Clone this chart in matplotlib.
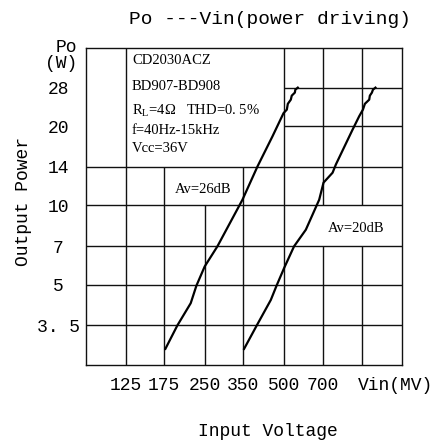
from matplotlib import pyplot as plt
import numpy as np

# grid / tick values (both axes step by sqrt(2))
x_ticks = [125, 175, 250, 350, 500, 700]
x_labels = ['125', '175', '250', '350', '500', '700']
x_extra = 990
y_ticks = [3.5, 5, 7, 10, 14, 20, 28]
y_labels = ['3. 5', '5', '7', '10', '14', '20', '28']
x_lim = (125 / np.sqrt(2), 1400)
y_lim = (3.5 / np.sqrt(2), 28 * np.sqrt(2))

# Av = 26dB curve
vin_26 = [176.9, 196.5, 220.8, 232, 249.5, 278.9, 347, 395.9, 451.4, 497,
          511.5, 516, 529.6, 534, 548.6, 551, 563]
po_26 = [2.85, 3.5, 4.25, 4.95, 5.86, 6.99, 10.5, 14.06, 18.3, 22.4,
         23.1, 24.3, 25.2, 26.1, 26.8, 27.5, 28]

# Av = 20dB curve
vin_20 = [352, 393.4, 444.6, 467.5, 499.6, 545, 604, 678.7, 705, 763, 785.5,
          909, 963, 995, 1012, 1051, 1057, 1076, 1086, 1110]
po_20 = [2.85, 3.5, 4.37, 4.95, 5.78, 6.99, 8.08, 10.5, 12.2, 13.3, 14.3,
         19.4, 21.8, 23.1, 24.3, 25.2, 26.1, 26.8, 27.5, 28]

mono = 'Liberation Mono'
serif = 'Liberation Serif'

W, H = 440, 441


def fig_xy(px, py):
    return px / W, 1 - py / H


fig = plt.figure(figsize=(4.4, 4.41), dpi=100)
ax = fig.add_axes([86 / W, 1 - 365 / H, 316 / W, 317 / H])
ax.set_xscale('log')
ax.set_yscale('log')
ax.set_xlim(*x_lim)
ax.set_ylim(*y_lim)
ax.minorticks_off()

lw = 1.0
col = '#111111'
y0, y1 = y_lim
x0, x1 = x_lim

# vertical grid segments (some cut away around the text boxes)
ax.vlines(125, y0, y1, color=col, lw=lw)
ax.vlines(175, y0, 14, color=col, lw=lw)
ax.vlines(250, y0, 10, color=col, lw=lw)
ax.vlines(350, y0, 14, color=col, lw=lw)
ax.vlines(500, y0, y1, color=col, lw=lw)
for xv in (700, x_extra):
    ax.vlines(xv, 10, y1, color=col, lw=lw)
    ax.vlines(xv, y0, 7, color=col, lw=lw)

# horizontal grid segments
for yv in y_ticks:
    if yv >= 20:
        ax.hlines(yv, 500, x1, color=col, lw=lw)
    else:
        ax.hlines(yv, x0, x1, color=col, lw=lw)

for s in ax.spines.values():
    s.set_color(col)
    s.set_linewidth(lw)

ax.plot(vin_26, po_26, color='black', lw=1.6)
ax.plot(vin_20, po_20, color='black', lw=1.6)

ax.set_xticks(x_ticks)
ax.set_xticklabels(x_labels, fontfamily=mono, fontsize=13)
ax.set_yticks(y_ticks)
ax.set_yticklabels(y_labels, fontfamily=mono, fontsize=13, ha='center')
ax.tick_params(axis='x', length=0, pad=9)
ax.tick_params(axis='y', length=0, pad=20)

fig.text(*fig_xy(358, 385), 'Vin(MV)', fontfamily=mono, fontsize=13,
         ha='left', va='center')
fig.text(*fig_xy(66, 48), 'Po', fontfamily=mono, fontsize=13,
         ha='center', va='center')
fig.text(*fig_xy(61, 64), '(W)', fontfamily=mono, fontsize=13,
         ha='center', va='center')

# parameter block
info = ['CD2030ACZ', 'BD907-BD908', r'R$_\mathregular{L}$=4Ω   THD=0. 5%',
        'f=40Hz-15kHz', 'Vcc=36V']
info_y = [61, 86, 111, 130, 148]
for txt, py in zip(info, info_y):
    fig.text(*fig_xy(132, py), txt, fontfamily=serif, fontsize=10.5,
             ha='left', va='center')
fig.text(*fig_xy(203.5, 190), 'Av=26dB', fontfamily=serif, fontsize=10.5,
         ha='center', va='center')
fig.text(*fig_xy(356, 228), 'Av=20dB', fontfamily=serif, fontsize=10.5,
         ha='center', va='center')

fig.text(*fig_xy(270, 20), 'Po ---Vin(power driving)',
         fontfamily=mono, fontsize=14, ha='center', va='center')
fig.text(*fig_xy(24, 201), 'Output Power', rotation=90,
         fontfamily=mono, fontsize=13, ha='center', va='center')
fig.text(*fig_xy(268, 431), 'Input Voltage',
         fontfamily=mono, fontsize=13, ha='center', va='center')

fig.savefig('out.png', dpi=100)
